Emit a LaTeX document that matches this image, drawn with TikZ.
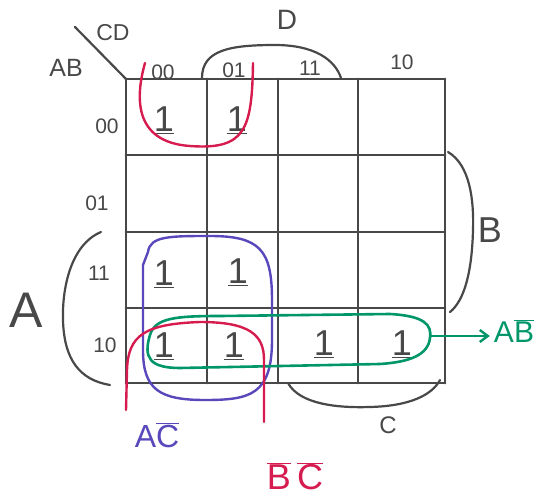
\documentclass[tikz,border=0pt]{standalone}
\usepackage{fontspec}
\setsansfont{Liberation Sans}
\usetikzlibrary{arrows.meta}
\definecolor{gridgray}{RGB}{72,72,72}
\definecolor{kred}{RGB}{214,28,78}
\definecolor{kpurple}{RGB}{88,72,188}
\definecolor{kgreen}{RGB}{0,150,105}
\newcommand\ovl[1]{$\overline{\hbox{#1}}$}
\begin{document}
\begin{tikzpicture}[x=1pt,y=-1pt,line cap=round,line join=round,
  gridline/.style={draw=gridgray,line width=2.8pt},
  brk/.style={draw=gridgray,line width=2.2pt},
  lbl/.style={inner sep=0pt,text=gridgray,font=\sffamily\fontsize{21}{21}\selectfont},
  biglbl/.style={inner sep=0pt,text=gridgray,font=\sffamily\fontsize{#1}{#1}\selectfont},
  one/.style={inner sep=0pt,text=gridgray,font=\sffamily\fontsize{36}{36}\selectfont},
  redloop/.style={draw=kred,line width=2.4pt},
  purloop/.style={draw=kpurple,line width=2.4pt},
  grnloop/.style={draw=kgreen,line width=2.6pt}]
\useasboundingbox (0,0) rectangle (539,501);
% grid
\foreach \x in {126,207,278,358,445} \draw[gridline] (\x,79) -- (\x,383);
\foreach \y in {79,155,232,308,383} \draw[gridline] (126,\y) -- (445,\y);
\draw[brk] (75,27) -- (126,79);
% header labels
\node[biglbl=23] (cd) at (113,33) {CD};
\node[biglbl=25] (ab) at (66,68) {AB};
\node[lbl] (c00) at (163,72) {00};
\node[lbl] (c01) at (234,70) {01};
\node[lbl] (c11) at (310,68) {11};
\node[lbl] (c10) at (402,62) {10};
\node[lbl] (r00) at (107,126) {00};
\node[lbl] (r01) at (97,203) {01};
\node[lbl] (r11) at (99,273) {11};
\node[lbl] (r10) at (105,345) {10};
% brackets
\draw[brk] (202,78) .. controls (202,50) and (230,45) .. (275,45) .. controls (315,45) and (335,60) .. (341,78);
\node[biglbl=28] (dl) at (287,20) {D};
\draw[brk] (448,152) .. controls (470,165) and (474,200) .. (473,230) .. controls (472,270) and (465,300) .. (450,312);
\node[biglbl=36] (bl) at (490,230) {B};
\draw[brk] (101,232) .. controls (70,245) and (62,290) .. (63,320) .. controls (64,360) and (80,380) .. (110,385);
\node[biglbl=50] (al) at (26,310) {A};
\draw[brk] (288,383) .. controls (300,405) and (340,408) .. (370,407) .. controls (410,406) and (432,395) .. (440,380);
\node[biglbl=24] (cl) at (388,425) {C};
% ones
\node[one] (o1) at (164,120) {\underline{1}};
\node[one] (o2) at (237,120) {\underline{1}};
\node[one] (o3) at (164,274) {\underline{1}};
\node[one] (o4) at (238,272) {\underline{1}};
\node[one] (o5) at (164,346) {\underline{1}};
\node[one] (o6) at (234,346) {\underline{1}};
\node[one] (o7) at (324,344) {\underline{1}};
\node[one] (o8) at (402,344) {\underline{1}};
% red top loop
\draw[redloop] (145,63) .. controls (136,95) and (132,142) .. (190,146) .. controls (245,150) and (252,130) .. (253,63);
% purple loop
\draw[purloop] (148,252) .. controls (150,236) and (170,236) .. (210,236) .. controls (260,236) and (272,250) .. (272,300) -- (272,340) .. controls (272,395) and (250,400) .. (205,400) .. controls (160,400) and (143,390) .. (143,350) -- (143,265) -- (148,252);
% green loop
\draw[grnloop] (150,335) .. controls (155,318) and (175,316) .. (220,316) -- (390,314) .. controls (425,316) and (432,325) .. (430,338) .. controls (428,355) and (410,362) .. (380,364) -- (180,368) .. controls (150,368) and (143,358) .. (150,335) -- cycle;
% red bottom loop
\draw[redloop] (126,410) -- (127,370) .. controls (128,335) and (145,324) .. (200,322) .. controls (250,322) and (264,335) .. (264,360) -- (264,422);
% result labels
\coordinate (gend) at (430,336);
\node[inner sep=0pt,text=kgreen,font=\sffamily\fontsize{30}{30}\selectfont] (abn) at (514,331) {A\ovl{B}};
\draw[kgreen,line width=2.4pt,-{Straight Barb[length=8pt,width=12pt]}] (gend) -- ([xshift=-4pt]gend -| abn.west);
\node[inner sep=0pt,text=kpurple,font=\sffamily\fontsize{32}{32}\selectfont] (acn) at (157,435) {A\ovl{C}};
\node[inner sep=0pt,text=kred,font=\sffamily\fontsize{36}{36}\selectfont] (bcn) at (295,476) {\ovl{B}\,\ovl{C}};
\end{tikzpicture}
\end{document}
